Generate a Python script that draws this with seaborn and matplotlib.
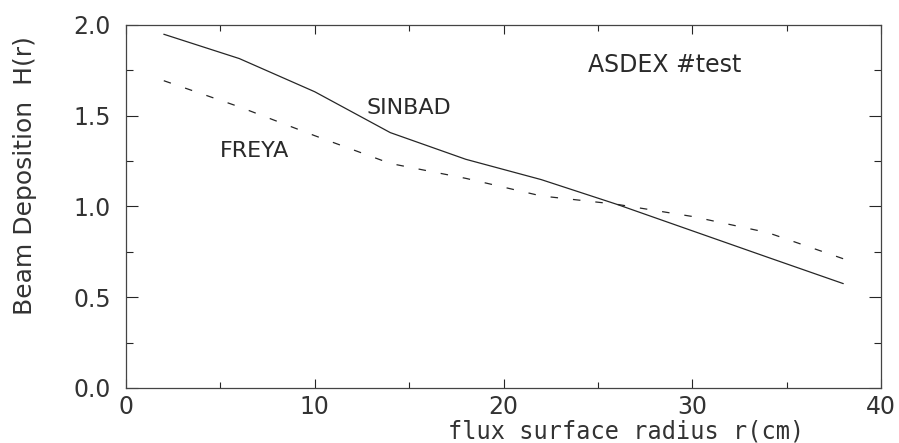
import numpy as np
import pandas as pd
import matplotlib
matplotlib.use("Agg")
import matplotlib.pyplot as plt
import seaborn as sns
from matplotlib.ticker import MultipleLocator, FormatStrFormatter

# Beam deposition profiles H(r) from the two codes
radius = [2, 6, 10, 14, 18, 22, 26, 30, 34, 38]
sinbad = [1.949, 1.815, 1.632, 1.407, 1.260, 1.148, 1.012, 0.866, 0.720, 0.575]
freya = [1.693, 1.549, 1.390, 1.237, 1.155, 1.058, 1.012, 0.945, 0.856, 0.712]

x_ticks = [0, 10, 20, 30, 40]
y_ticks = [0.0, 0.5, 1.0, 1.5, 2.0]

df = pd.DataFrame({
    "r": radius * 2,
    "H": sinbad + freya,
    "code": ["SINBAD"] * len(radius) + ["FREYA"] * len(radius),
})

sns.set_theme(style="ticks")
plt.rcParams["font.family"] = ["DejaVu Sans"]

ink = "#262626"
fig = plt.figure(figsize=(8.99, 4.43), dpi=100)
ax = fig.add_axes([0.1402, 0.1242, 0.8398, 0.8194])

sns.lineplot(
    data=df, x="r", y="H", style="code",
    dashes={"SINBAD": "", "FREYA": (6, 12)},
    color=ink, linewidth=0.9, legend=False, ax=ax,
)

ax.set_xlim(0, 40)
ax.set_ylim(0, 2.0)
ax.set_xticks(x_ticks)
ax.set_yticks(y_ticks)
ax.xaxis.set_minor_locator(MultipleLocator(5))
ax.yaxis.set_minor_locator(MultipleLocator(0.25))
ax.yaxis.set_major_formatter(FormatStrFormatter("%.1f"))

ax.tick_params(which="both", direction="in", top=True, right=True,
               colors=ink, width=0.8)
ax.tick_params(axis="x", which="major", length=6.5, pad=5, labelsize=17)
ax.tick_params(axis="x", which="minor", length=4.3)
ax.tick_params(axis="y", which="major", length=8.6, pad=11, labelsize=17)
ax.tick_params(axis="y", which="minor", length=5)
for lab in ax.get_xticklabels() + ax.get_yticklabels():
    lab.set_color("#333333")

for sp in ax.spines.values():
    sp.set_color("#444444")
    sp.set_linewidth(0.9)

ax.set_xlabel("flux surface radius r(cm)", family="DejaVu Sans Mono",
              fontsize=17, color="#333333", va="center")
ax.xaxis.set_label_coords(0.662, -0.119)
ax.set_ylabel("Beam Deposition  H(r)", fontsize=18, color="#333333",
              va="center", ha="center", rotation_mode="default")
ax.yaxis.set_label_coords(-0.1338, 0.585)

ax.text(12.75, 1.541, "SINBAD", fontsize=16, color="#2a2a2a",
        ha="left", va="center")
ax.text(4.98, 1.303, "FREYA", fontsize=16, color="#2a2a2a",
        ha="left", va="center")
ax.text(24.48, 1.78, "ASDEX #test", fontsize=17, color="#2a2a2a",
        ha="left", va="center")

fig.savefig("out.png", dpi=100)
